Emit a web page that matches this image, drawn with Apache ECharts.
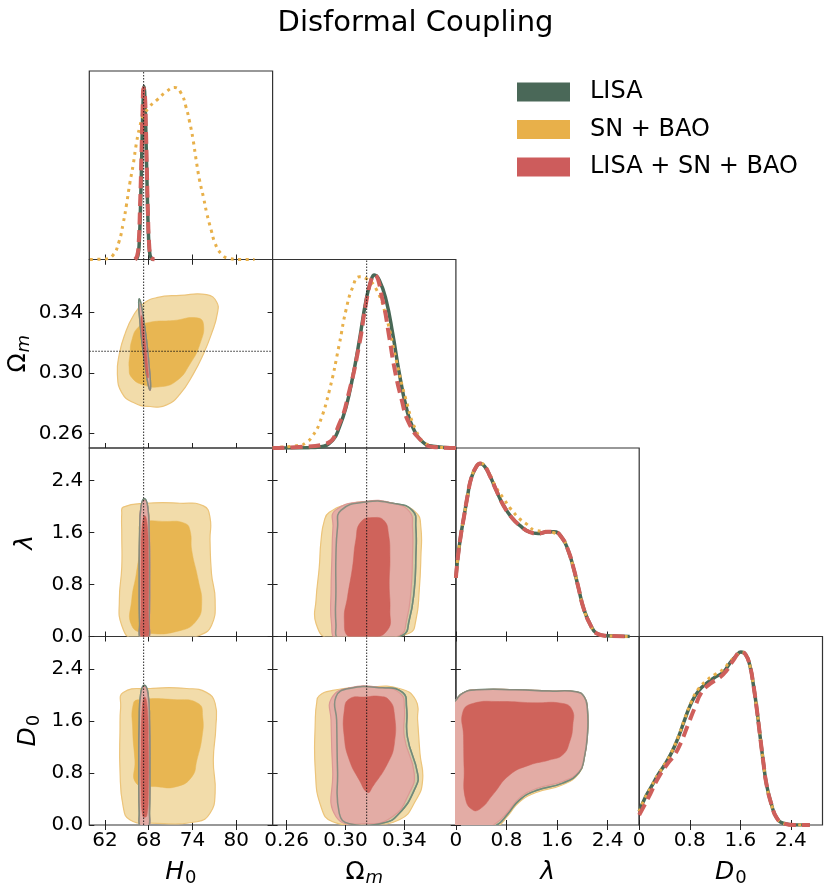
<!DOCTYPE html>
<html>
<head>
<meta charset="utf-8">
<title>Disformal Coupling</title>
<script src="https://cdn.jsdelivr.net/npm/echarts@6/dist/echarts.min.js"></script>
<style>
  html, body { margin: 0; padding: 0; background: #fff; }
  #chart { width: 831px; height: 894px; }
</style>
</head>
<body>
<div id="chart"></div>
<script>
// axis ranges and ticks
const H0_RANGE = [59.85, 84.98];
const OM_RANGE = [0.2505, 0.375];
const LAM_RANGE = [0, 2.9];
const D0_RANGE = [0, 2.9];
const PDF_MAX = 1.09;

const H0_TICKS = [62, 68, 74, 80];
const H0_LABELS = ["62", "68", "74", "80"];
const OM_TICKS = [0.26, 0.30, 0.34];
const OM_LABELS = ["0.26", "0.30", "0.34"];
const LD_TICKS = [0, 0.8, 1.6, 2.4];
const LD_XLABELS = ["0", "0.8", "1.6", "2.4"];
const LD_YLABELS = ["0.0", "0.8", "1.6", "2.4"];

const TRUTH_H0 = 67.3;
const TRUTH_OM = 0.3144;

const SERIES_NAMES = ["LISA", "SN + BAO", "LISA + SN + BAO"];

// 1D marginals (x, normalised density)
const h0Lisa = [[66.2,0],[66.5,0.02],[66.7,0.1],[66.9,0.35],[67.05,0.62],[67.2,0.88],[67.35,1.0],[67.5,0.9],[67.65,0.65],[67.8,0.38],[67.95,0.16],[68.1,0.05],[68.3,0.01],[68.6,0]];
const h0Sn = [[59.95,0],[62.0,0.003],[63.1,0.025],[63.9,0.10],[64.5,0.21],[64.96,0.32],[65.4,0.44],[65.86,0.546],[66.3,0.67],[66.77,0.767],[67.2,0.825],[68.1,0.883],[69.05,0.92],[70.4,0.97],[71.55,0.995],[72.46,0.96],[73.1,0.883],[73.6,0.796],[74.05,0.70],[74.5,0.575],[74.96,0.46],[75.5,0.36],[75.96,0.266],[76.56,0.17],[77.1,0.093],[77.9,0.035],[79.0,0.006],[80.5,0],[82.5,0]];
const h0Comb = [[66.1,0],[66.4,0.02],[66.6,0.08],[66.8,0.3],[67.0,0.6],[67.15,0.85],[67.3,0.99],[67.45,0.97],[67.6,0.78],[67.75,0.5],[67.9,0.25],[68.05,0.09],[68.25,0.02],[68.5,0.005],[68.8,0]];

const omLisa = [[0.2505,0],[0.275,0.002],[0.2824,0.006],[0.2913,0.045],[0.2958,0.12],[0.3004,0.237],[0.3049,0.41],[0.3094,0.62],[0.314,0.855],[0.3174,0.97],[0.3196,1.0],[0.323,0.97],[0.3276,0.855],[0.3321,0.66],[0.3366,0.43],[0.3412,0.237],[0.3457,0.12],[0.3525,0.035],[0.3593,0.01],[0.375,0]];
const omSn = [[0.2505,0.002],[0.2686,0.015],[0.2732,0.03],[0.2777,0.07],[0.2822,0.14],[0.289,0.33],[0.2958,0.60],[0.3004,0.80],[0.3049,0.93],[0.3094,0.99],[0.314,0.98],[0.3208,0.92],[0.3276,0.76],[0.3344,0.51],[0.3412,0.276],[0.348,0.10],[0.3548,0.025],[0.3637,0.005],[0.375,0]];
const omComb = [[0.2505,0],[0.2686,0.006],[0.2868,0.025],[0.2958,0.14],[0.3026,0.33],[0.3094,0.6],[0.314,0.84],[0.3174,0.97],[0.3196,1.0],[0.3252,0.855],[0.3297,0.643],[0.3331,0.469],[0.3377,0.295],[0.3433,0.141],[0.3524,0.035],[0.3593,0.006],[0.375,0]];

const lamLisa = [[0,0.339],[0.03,0.455],[0.08,0.59],[0.135,0.708],[0.19,0.825],[0.24,0.912],[0.32,0.98],[0.385,1.0],[0.454,0.984],[0.534,0.932],[0.64,0.844],[0.746,0.762],[0.88,0.689],[1.01,0.642],[1.17,0.603],[1.3,0.595],[1.45,0.605],[1.55,0.605],[1.68,0.57],[1.78,0.494],[1.86,0.397],[1.94,0.28],[2.02,0.163],[2.13,0.066],[2.23,0.0175],[2.39,0.004],[2.75,0]];
const lamSn = [[0,0.339],[0.03,0.455],[0.08,0.59],[0.135,0.708],[0.19,0.825],[0.24,0.912],[0.32,0.98],[0.385,1.0],[0.454,0.99],[0.534,0.94],[0.64,0.86],[0.77,0.79],[0.85,0.746],[1.01,0.68],[1.12,0.65],[1.25,0.615],[1.44,0.607],[1.55,0.60],[1.68,0.57],[1.78,0.494],[1.86,0.397],[1.94,0.28],[2.02,0.163],[2.13,0.066],[2.23,0.0175],[2.39,0.004],[2.75,0]];
const lamComb = [[0,0.339],[0.03,0.455],[0.08,0.59],[0.135,0.708],[0.19,0.825],[0.24,0.912],[0.32,0.98],[0.385,1.0],[0.454,0.984],[0.534,0.932],[0.64,0.844],[0.746,0.762],[0.88,0.689],[1.01,0.642],[1.17,0.603],[1.3,0.595],[1.45,0.605],[1.55,0.605],[1.68,0.57],[1.78,0.494],[1.86,0.397],[1.94,0.28],[2.02,0.163],[2.13,0.066],[2.23,0.0175],[2.39,0.004],[2.75,0]];

const d0Lisa = [[0,0.078],[0.09,0.155],[0.195,0.223],[0.30,0.291],[0.406,0.35],[0.51,0.417],[0.617,0.505],[0.723,0.612],[0.828,0.709],[0.934,0.773],[1.065,0.819],[1.197,0.854],[1.329,0.883],[1.435,0.936],[1.54,0.98],[1.609,1.0],[1.683,0.986],[1.751,0.922],[1.804,0.816],[1.857,0.68],[1.909,0.524],[1.962,0.369],[2.015,0.233],[2.094,0.117],[2.173,0.043],[2.278,0.01],[2.463,0],[2.70,0]];
const d0Sn = [[0,0.078],[0.09,0.155],[0.195,0.225],[0.30,0.293],[0.406,0.352],[0.51,0.42],[0.617,0.51],[0.723,0.617],[0.828,0.715],[0.934,0.785],[1.065,0.835],[1.197,0.87],[1.329,0.90],[1.435,0.945],[1.54,0.98],[1.609,1.0],[1.683,0.986],[1.751,0.922],[1.804,0.816],[1.857,0.68],[1.909,0.524],[1.962,0.369],[2.015,0.233],[2.094,0.117],[2.173,0.043],[2.278,0.01],[2.463,0],[2.70,0]];
const d0Comb = [[0,0.058],[0.142,0.155],[0.30,0.272],[0.459,0.359],[0.564,0.408],[0.67,0.485],[0.775,0.583],[0.881,0.68],[0.986,0.767],[1.118,0.816],[1.276,0.854],[1.382,0.893],[1.487,0.951],[1.609,1.0],[1.683,0.986],[1.751,0.922],[1.804,0.816],[1.857,0.68],[1.909,0.524],[1.962,0.369],[2.015,0.233],[2.094,0.117],[2.173,0.043],[2.278,0.01],[2.463,0],[2.70,0]];

// 2D contours (68% / 95%) in parameter units
const snH0Om95 = [[67.25,0.3458],[69.08,0.3498],[72.28,0.3513],[75.94,0.3518],[77.31,0.3469],[77.4,0.3392],[76.6,0.3259],[75.5,0.3126],[74.1,0.2993],[72.28,0.2861],[70.46,0.279],[68.18,0.2779],[65.9,0.2805],[64.3,0.2871],[63.7,0.2993],[63.97,0.3126],[64.75,0.3259],[65.9,0.338]];
const snH0Om68 = [[65.43,0.3126],[65.66,0.3214],[66.57,0.3303],[68.18,0.3336],[71.38,0.3347],[74.58,0.3365],[75.5,0.3325],[75.03,0.3193],[73.66,0.306],[71.83,0.2949],[69.5,0.2909],[67.25,0.2922],[65.66,0.2971],[65.3,0.3037]];
const lisaH0Om95 = [[66.7,0.349],[66.97,0.345],[67.3,0.335],[67.76,0.319],[68.08,0.303],[68.24,0.293],[68.17,0.2887],[67.9,0.293],[67.56,0.303],[67.1,0.319],[66.78,0.335],[66.63,0.345]];
const combH0Om95 = [[66.85,0.346],[67.05,0.342],[67.35,0.333],[67.8,0.318],[68.1,0.303],[68.25,0.293],[68.18,0.2885],[67.92,0.292],[67.6,0.302],[67.15,0.318],[66.85,0.332],[66.72,0.342]];
const combH0Om68 = [[67.0,0.338],[67.2,0.333],[67.6,0.318],[67.9,0.302],[67.95,0.297],[67.8,0.297],[67.45,0.308],[67.15,0.322],[66.95,0.333]];

const snH0Lam95 = [[64.5,1.99],[67.64,2.05],[72.28,2.05],[75.5,2.01],[76.4,1.83],[76.4,1.48],[76.6,0.97],[77.1,0.56],[76.6,0.17],[75.0,0.02],[72.3,-0.04],[65.9,-0.04],[64.3,0.17],[63.97,0.56],[64.3,1.07],[64.3,1.58],[64.3,1.89]];
const snH0Lam68 = [[66.96,1.73],[70.5,1.77],[72.97,1.74],[73.66,1.63],[73.9,1.32],[74.8,0.86],[75.26,0.51],[74.58,0.25],[72.28,0.09],[67.7,0.055],[65.66,0.17],[65.66,0.56],[66.3,0.97],[66.93,1.48]];
const lisaH0Lam95 = [[67.4,2.12],[67.85,2.0],[68.05,1.6],[68.1,0.8],[68.05,0.2],[67.9,-0.05],[66.9,-0.05],[66.75,0.2],[66.7,0.8],[66.75,1.6],[66.95,2.0]];
const combH0Lam95 = [[67.4,2.1],[67.9,1.98],[68.1,1.6],[68.15,0.8],[68.1,0.2],[67.95,-0.05],[66.9,-0.05],[66.75,0.2],[66.7,0.8],[66.75,1.6],[66.9,1.98]];
const combH0Lam68 = [[67.45,1.86],[67.8,1.7],[67.95,1.2],[67.95,0.4],[67.85,-0.05],[67.0,-0.05],[66.95,0.4],[66.95,1.2],[67.1,1.7]];

const snH0D095 = [[64.5,2.04],[68.2,2.10],[73.2,2.10],[75.9,2.04],[77.1,1.87],[77.2,1.51],[76.85,1.0],[77.1,0.49],[76.4,0.18],[74.6,0.05],[68.2,0.03],[65.4,0.08],[64.5,0.28],[64.06,0.84],[64.06,1.46],[64.15,1.81]];
const snH0D068 = [[65.9,1.87],[66.8,1.93],[71.4,1.93],[74.8,1.87],[75.4,1.66],[75.3,1.35],[74.6,1.0],[73.9,0.74],[71.8,0.59],[69.1,0.59],[66.3,0.64],[66.1,1.0],[65.8,1.46]];
const lisaH0D095 = [[67.4,2.15],[67.9,2.02],[68.1,1.6],[68.15,0.8],[68.1,0.2],[67.9,-0.05],[66.9,-0.05],[66.7,0.2],[66.65,0.8],[66.7,1.6],[66.9,2.02]];
const combH0D095 = [[67.4,2.13],[67.92,2.0],[68.12,1.6],[68.15,0.8],[68.1,0.2],[67.95,-0.05],[66.9,-0.05],[66.72,0.2],[66.68,0.8],[66.72,1.6],[66.9,2.0]];
const combH0D068 = [[67.45,1.97],[67.8,1.8],[67.95,1.2],[67.95,0.5],[67.75,0.15],[67.45,0.12],[67.15,0.15],[66.95,0.5],[66.95,1.2],[67.1,1.8]];

const snOmLam95 = [[0.289,1.91],[0.3026,2.04],[0.3161,2.07],[0.3343,2.04],[0.3478,1.91],[0.3512,1.68],[0.3512,1.22],[0.3501,0.71],[0.3478,0.25],[0.3433,0.05],[0.316,-0.04],[0.289,-0.04],[0.28,0.2],[0.28,0.56],[0.2822,1.07],[0.2834,1.48],[0.2856,1.78]];
const lisaOmLam95 = [[0.2969,1.94],[0.3139,2.07],[0.332,2.05],[0.3455,1.94],[0.3478,1.68],[0.3478,1.22],[0.3467,0.71],[0.3433,0.25],[0.3388,0.02],[0.316,-0.04],[0.2958,-0.04],[0.2935,0.2],[0.2935,0.71],[0.2935,1.22],[0.2946,1.68]];
const combOmLam95 = [[0.293,1.94],[0.3139,2.08],[0.332,2.05],[0.3435,1.92],[0.3455,1.68],[0.3455,1.22],[0.3445,0.71],[0.3415,0.25],[0.337,0.02],[0.316,-0.04],[0.294,-0.04],[0.2905,0.2],[0.2902,0.71],[0.2908,1.22],[0.2915,1.68]];
const combOmLam68 = [[0.3195,1.83],[0.3263,1.78],[0.3292,1.58],[0.3302,1.22],[0.3297,0.81],[0.3302,0.40],[0.3286,0.10],[0.3162,-0.03],[0.3026,-0.01],[0.2992,0.25],[0.3014,0.61],[0.3048,1.07],[0.307,1.48],[0.3104,1.76]];

const snOmD095 = [[0.2822,1.99],[0.2913,2.07],[0.314,2.12],[0.3366,2.10],[0.3478,1.92],[0.349,1.61],[0.3506,1.10],[0.3524,0.69],[0.3478,0.38],[0.3366,0.08],[0.314,0.02],[0.2913,0.05],[0.2834,0.28],[0.2795,0.84],[0.2795,1.61],[0.2804,1.87]];
const lisaOmD095 = [[0.2935,1.97],[0.3026,2.10],[0.3252,2.11],[0.3388,2.04],[0.3415,1.81],[0.3421,1.35],[0.349,0.79],[0.3478,0.59],[0.3366,0.18],[0.3252,0.03],[0.3026,0.02],[0.2958,0.18],[0.2946,0.84],[0.294,1.61]];
const combOmD095 = [[0.2905,1.95],[0.3026,2.11],[0.3252,2.11],[0.3375,2.02],[0.34,1.81],[0.34,1.35],[0.3467,0.79],[0.3433,0.49],[0.3321,0.13],[0.314,0.02],[0.2935,0.13],[0.2913,0.84],[0.2902,1.61]];
const combOmD068 = [[0.314,1.97],[0.3229,1.98],[0.3297,1.92],[0.3332,1.71],[0.3332,1.25],[0.3287,0.95],[0.3185,0.59],[0.3151,0.50],[0.3094,0.69],[0.3026,1.0],[0.2992,1.35],[0.2992,1.76],[0.3026,1.94]];

const snLamD095 = [[-0.05,1.85],[0.0,1.92],[0.11,2.03],[0.32,2.08],[0.95,2.08],[1.48,2.06],[1.90,2.05],[2.03,1.97],[2.08,1.79],[2.08,1.38],[2.03,1.03],[1.95,0.8],[1.69,0.62],[1.27,0.5],[1.0,0.35],[0.82,0.14],[0.66,-0.02],[0.42,-0.06],[-0.05,-0.06]];
const lisaLamD095 = [[-0.05,1.85],[0.0,1.92],[0.11,2.03],[0.32,2.08],[0.95,2.08],[1.48,2.06],[1.90,2.05],[2.03,1.97],[2.08,1.79],[2.08,1.38],[2.03,1.03],[1.95,0.81],[1.69,0.645],[1.27,0.53],[1.0,0.38],[0.82,0.17],[0.65,0.0],[0.42,-0.06],[-0.05,-0.06]];
const combLamD095 = [[-0.05,1.85],[0.0,1.92],[0.11,2.03],[0.32,2.08],[0.95,2.08],[1.48,2.06],[1.90,2.05],[2.03,1.97],[2.08,1.79],[2.08,1.38],[2.03,1.03],[1.95,0.82],[1.69,0.67],[1.27,0.56],[1.0,0.41],[0.82,0.2],[0.64,0.03],[0.42,-0.06],[-0.05,-0.06]];
const combLamD068 = [[0.11,1.74],[0.27,1.87],[0.69,1.90],[1.22,1.88],[1.69,1.87],[1.84,1.77],[1.85,1.54],[1.80,1.28],[1.69,1.08],[1.48,1.0],[1.16,0.92],[0.85,0.77],[0.58,0.46],[0.40,0.26],[0.27,0.23],[0.15,0.41],[0.13,0.87],[0.12,1.38]];

// ---- drawing ----
const FONT = "DejaVu Sans";
const GREEN = "#486856";
const ORANGE = "#e8b04a";
const RED = "#cf5f5b";

const PARAMS = [
  { range: H0_RANGE, ticks: H0_TICKS, xl: H0_LABELS, yl: H0_LABELS },
  { range: OM_RANGE, ticks: OM_TICKS, xl: OM_LABELS, yl: OM_LABELS },
  { range: LAM_RANGE, ticks: LD_TICKS, xl: LD_XLABELS, yl: LD_YLABELS },
  { range: D0_RANGE, ticks: LD_TICKS, xl: LD_XLABELS, yl: LD_YLABELS },
];

const LEFT0 = 89.3, TOP0 = 71, PW = 183.3, PH = 188.5;

const grids = [], xAxes = [], yAxes = [], series = [];
const gridOf = {};

function makeAxis(g, position, p, labels, dir) {
  const names = dir === "x" ? p.xl : p.yl;
  return {
    type: "value", gridIndex: g, position,
    min: p.range[0], max: p.range[1],
    axisLine: { show: false }, splitLine: { show: false },
    axisTick: { show: true, inside: true, length: 5, customValues: p.ticks, lineStyle: { color: "#222", width: 1 } },
    axisLabel: {
      show: labels, customValues: p.ticks, margin: 6, fontSize: 20, color: "#000", fontFamily: FONT,
      formatter(v) {
        const i = p.ticks.findIndex((t) => Math.abs(t - v) < 1e-9);
        return i >= 0 ? names[i] : "";
      },
    },
  };
}

for (let r = 0; r < 4; r++) {
  for (let c = 0; c <= r; c++) {
    const g = grids.length;
    gridOf[r + "," + c] = g;
    grids.push({
      left: LEFT0 + c * PW, top: TOP0 + r * PH, width: PW, height: PH,
      show: true, borderColor: "#333", borderWidth: 1.2, backgroundColor: "transparent",
      containLabel: false, outerBoundsMode: "none",
    });
    xAxes.push(makeAxis(g, "bottom", PARAMS[c], r === 3, "x"));
    xAxes.push(makeAxis(g, "top", PARAMS[c], false, "x"));
    if (r === c) {
      yAxes.push({ type: "value", gridIndex: g, min: 0, max: PDF_MAX, show: false });
      yAxes.push({ type: "value", gridIndex: g, min: 0, max: PDF_MAX, show: false });
    } else {
      yAxes.push(makeAxis(g, "left", PARAMS[r], c === 0, "y"));
      yAxes.push(makeAxis(g, "right", PARAMS[r], false, "y"));
    }
  }
}

function curve(g, data, name, lineStyle, z) {
  series.push({
    type: "line", name, xAxisIndex: 2 * g, yAxisIndex: 2 * g, data,
    showSymbol: false, smooth: 0.5, z, silent: true,
    color: lineStyle.color, lineStyle,
  });
}

const solid = { color: GREEN, width: 3.5 };
const dotted = { color: ORANGE, width: 3, type: [3, 4.5] };
const dashed = { color: RED, width: 4, type: [12, 6] };

const oneD = [
  [0, h0Lisa, h0Sn, h0Comb],
  [1, omLisa, omSn, omComb],
  [2, lamLisa, lamSn, lamComb],
  [3, d0Lisa, d0Sn, d0Comb],
];
oneD.forEach(([i, a, b, cc]) => {
  const g = gridOf[i + "," + i];
  curve(g, a, SERIES_NAMES[0], solid, 3);
  curve(g, b, SERIES_NAMES[1], dotted, 4);
  curve(g, cc, SERIES_NAMES[2], dashed, 5);
});

function contour(g, pts, style, z) {
  series.push({
    type: "custom", xAxisIndex: 2 * g, yAxisIndex: 2 * g, clip: true, z, silent: true,
    data: [pts[0]],
    renderItem(params, api) {
      return {
        type: "polygon",
        shape: { points: pts.map((p) => api.coord(p)), smooth: 0.5 },
        style,
      };
    },
  });
}

const S_OR95 = { fill: "#f2dcaa", stroke: "#ecc47a", lineWidth: 1.2 };
const S_OR68 = { fill: "#e8b652", stroke: "#e8b652", lineWidth: 0.5 };
const S_GR95 = { fill: "rgba(150,170,155,0.35)", stroke: "#7b9282", lineWidth: 1.5 };
const S_RD95 = { fill: "rgba(228,168,165,0.9)", stroke: "#dc9994", lineWidth: 1.2 };
const S_GRLINE = { fill: "none", stroke: "rgba(110,135,118,0.75)", lineWidth: 1.5 };
const S_RD68 = { fill: "#cf635b", stroke: "#cf635b", lineWidth: 0.5 };

const twoD = [
  ["1,0", snH0Om95, snH0Om68, lisaH0Om95, combH0Om95, combH0Om68],
  ["2,0", snH0Lam95, snH0Lam68, lisaH0Lam95, combH0Lam95, combH0Lam68],
  ["3,0", snH0D095, snH0D068, lisaH0D095, combH0D095, combH0D068],
  ["2,1", snOmLam95, null, lisaOmLam95, combOmLam95, combOmLam68],
  ["3,1", snOmD095, null, lisaOmD095, combOmD095, combOmD068],
  ["3,2", snLamD095, null, lisaLamD095, combLamD095, combLamD068],
];
twoD.forEach(([key, sn95, sn68, li95, co95, co68]) => {
  const g = gridOf[key];
  contour(g, sn95, S_OR95, 2);
  if (sn68) contour(g, sn68, S_OR68, 2);
  contour(g, li95, S_GR95, 2);
  contour(g, co95, S_RD95, 2);
  contour(g, li95, S_GRLINE, 2);
  contour(g, co68, S_RD68, 2);
});

// reference (fiducial) lines
function refLine(g, data) {
  series.push({
    type: "line", xAxisIndex: 2 * g, yAxisIndex: 2 * g, data, showSymbol: false, silent: true, z: 6,
    lineStyle: { color: "#111", width: 0.9, type: [1.5, 1.5] },
  });
}
refLine(gridOf["0,0"], [[TRUTH_H0, 0], [TRUTH_H0, PDF_MAX]]);
refLine(gridOf["1,0"], [[TRUTH_H0, OM_RANGE[0]], [TRUTH_H0, OM_RANGE[1]]]);
refLine(gridOf["1,0"], [[H0_RANGE[0], TRUTH_OM], [H0_RANGE[1], TRUTH_OM]]);
refLine(gridOf["2,0"], [[TRUTH_H0, LAM_RANGE[0]], [TRUTH_H0, LAM_RANGE[1]]]);
refLine(gridOf["3,0"], [[TRUTH_H0, D0_RANGE[0]], [TRUTH_H0, D0_RANGE[1]]]);
refLine(gridOf["1,1"], [[TRUTH_OM, 0], [TRUTH_OM, PDF_MAX]]);
refLine(gridOf["2,1"], [[TRUTH_OM, LAM_RANGE[0]], [TRUTH_OM, LAM_RANGE[1]]]);
refLine(gridOf["3,1"], [[TRUTH_OM, D0_RANGE[0]], [TRUTH_OM, D0_RANGE[1]]]);

// axis names
const rich = {
  i: { fontStyle: "italic", fontSize: 25, fontFamily: FONT, fill: "#000" },
  u: { fontSize: 25, fontFamily: FONT, fill: "#000" },
  s: { fontSize: 18, fontFamily: FONT, fill: "#000", padding: [12, 0, 0, 1] },
  si: { fontStyle: "italic", fontSize: 18, fontFamily: FONT, fill: "#000", padding: [12, 0, 0, 1] },
};
const AXIS_NAMES = ["{i|H}{s|0}", "{u|Ω}{si|m}", "{i|λ}", "{i|D}{s|0}"];
const graphic = [];
AXIS_NAMES.forEach((t, i) => {
  graphic.push({
    type: "text", x: LEFT0 + (i + 0.5) * PW, y: 872,
    style: { text: t, rich, align: "center", verticalAlign: "middle" },
  });
});
const Y_NAME_X = [0, 18, 25, 28];
[1, 2, 3].forEach((i) => {
  graphic.push({
    type: "text", x: Y_NAME_X[i], y: TOP0 + (i + 0.5) * PH, rotation: Math.PI / 2,
    style: { text: AXIS_NAMES[i], rich, align: "center", verticalAlign: "middle" },
  });
});

const chart = echarts.init(document.getElementById("chart"));
chart.setOption({
  animation: false,
  backgroundColor: "#fff",
  textStyle: { fontFamily: FONT },
  title: {
    text: "Disformal Coupling", left: "center", top: 4,
    textStyle: { fontSize: 29, fontWeight: "normal", color: "#000", fontFamily: FONT },
  },
  legend: {
    orient: "vertical", left: 517, top: 80, padding: 0, itemWidth: 53, itemHeight: 19, itemGap: 13.5,
    icon: "rect", selectedMode: false,
    itemStyle: { borderWidth: 0 },
    textStyle: { fontSize: 24, color: "#000", fontFamily: FONT, padding: [0, 0, 0, 15] },
    data: [
      { name: SERIES_NAMES[0], itemStyle: { color: "#4a6858" } },
      { name: SERIES_NAMES[1], itemStyle: { color: "#e8b04a" } },
      { name: SERIES_NAMES[2], itemStyle: { color: "#cd5c5c" } },
    ],
  },
  grid: grids,
  xAxis: xAxes,
  yAxis: yAxes,
  series,
  graphic,
});
window.addEventListener("resize", () => chart.resize(), { passive: true });
</script>
</body>
</html>
